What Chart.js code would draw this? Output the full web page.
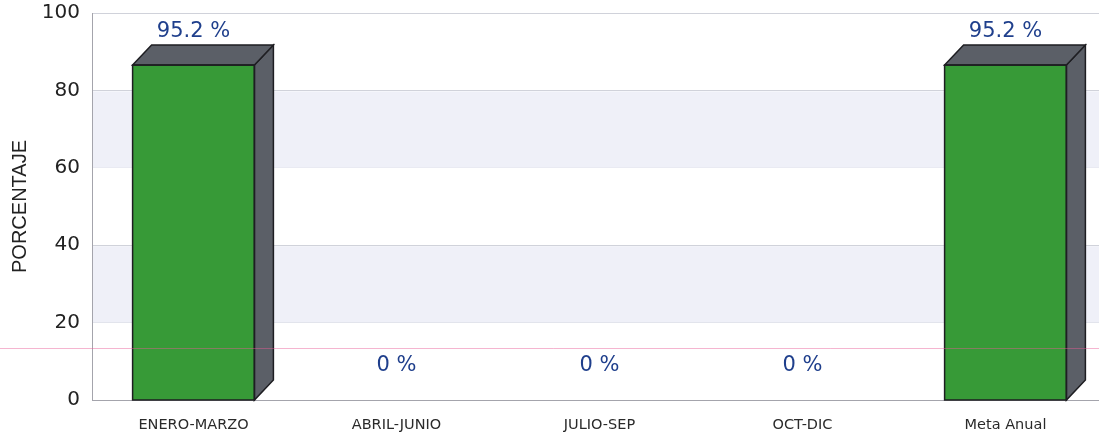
<!DOCTYPE html>
<html>
<head>
<meta charset="utf-8">
<script src="https://cdn.jsdelivr.net/npm/chart.js@4/dist/chart.umd.min.js"></script>
<style>
  html, body { margin: 0; padding: 0; background: #ffffff; overflow: hidden; }
  #wrap { width: 1107px; height: 437px; }
</style>
</head>
<body>
<div id="wrap"><canvas id="c" width="1107" height="437"></canvas></div>
<script>
const categories = ['ENERO-MARZO', 'ABRIL-JUNIO', 'JULIO-SEP', 'OCT-DIC', 'Meta Anual'];
const porcentajes = [95.2, 0, 0, 0, 95.2];
const valueLabels = ['95.2 %', '0 %', '0 %', '0 %', '95.2 %'];
const yTickValues = [0, 20, 40, 60, 80, 100];
const shadedBands = [[20, 40], [60, 80]];
const pinkLineValue = [13.4];

const bandsPlugin = {
  id: 'bands',
  beforeDatasetsDraw(chart) {
    const { ctx, chartArea } = chart;
    const y = chart.scales.y;
    ctx.save();
    ctx.fillStyle = '#eff0f8';
    shadedBands.forEach(([a, b]) => {
      const y1 = y.getPixelForValue(b), y2 = y.getPixelForValue(a);
      ctx.fillRect(chartArea.left + 1, y1 + 1, chartArea.right - chartArea.left, y2 - y1 - 1);
    });
    ctx.restore();
  }
};

const box3dPlugin = {
  id: 'box3d',
  afterDatasetsDraw(chart) {
    const { ctx } = chart;
    const meta = chart.getDatasetMeta(0);
    const dx = 19, dy = 20;
    ctx.save();
    meta.data.forEach((bar, i) => {
      if (!porcentajes[i]) return;
      const p = bar.getProps(['x', 'y', 'base', 'width'], true);
      const l = p.x - p.width / 2, r = p.x + p.width / 2, t = p.y, b = p.base;
      ctx.fillStyle = '#5b5f67';
      ctx.strokeStyle = '#1e1e22';
      ctx.lineWidth = 1.5;
      ctx.beginPath();
      ctx.moveTo(r, t); ctx.lineTo(r + dx, t - dy); ctx.lineTo(r + dx, b - dy); ctx.lineTo(r, b); ctx.closePath();
      ctx.fill(); ctx.stroke();
      ctx.beginPath();
      ctx.moveTo(l, t); ctx.lineTo(l + dx, t - dy); ctx.lineTo(r + dx, t - dy); ctx.lineTo(r, t); ctx.closePath();
      ctx.fill(); ctx.stroke();
      ctx.strokeRect(l, t, p.width, b - t);
    });
    ctx.restore();
  }
};

const labelsPlugin = {
  id: 'vlabels',
  afterDraw(chart) {
    const { ctx } = chart;
    const meta = chart.getDatasetMeta(0);
    ctx.save();
    ctx.font = '21px "DejaVu Sans", sans-serif';
    ctx.fillStyle = '#1f3f8c';
    ctx.textAlign = 'center';
    ctx.textBaseline = 'middle';
    meta.data.forEach((bar, i) => {
      ctx.fillText(valueLabels[i], bar.x, bar.y - 34);
    });
    const y = chart.scales.y;
    ctx.strokeStyle = 'rgba(232, 90, 150, 0.45)';
    ctx.lineWidth = 1;
    pinkLineValue.forEach(v => {
      const py = Math.round(y.getPixelForValue(v)) + 0.5;
      ctx.beginPath(); ctx.moveTo(0, py); ctx.lineTo(chart.width, py); ctx.stroke();
    });
    ctx.restore();
  }
};

new Chart(document.getElementById('c'), {
  type: 'bar',
  data: {
    labels: categories,
    datasets: [{
      data: porcentajes,
      yAxisID: 'yb',
      backgroundColor: '#379a37',
      borderWidth: 0,
      barPercentage: 0.6,
      categoryPercentage: 1.0
    }]
  },
  options: {
    responsive: false,
    animation: false,
    layout: { padding: { top: 13, right: 0, bottom: 0, left: 0 } },
    plugins: { legend: { display: false }, tooltip: { enabled: false } },
    scales: {
      x: {
        grid: { display: false, drawTicks: false },
        border: { display: true, color: '#a4a4ac', width: 1 },
        ticks: { font: { family: '"DejaVu Sans", sans-serif', size: 14.5 }, color: '#2a2a2a', padding: 17, maxRotation: 0, autoSkip: false },
        afterFit(s) { s.height = 37; s.paddingLeft = 0; s.paddingRight = 0; }
      },
      y: {
        min: 0, max: 100,
        afterBuildTicks(s) { s.ticks = yTickValues.map(v => ({ value: v })); },
        grid: { color: '#d0d2da', drawTicks: false },
        border: { display: true, color: '#a4a4ac', width: 1 },
        ticks: { font: { family: '"DejaVu Sans", sans-serif', size: 20 }, color: '#222', padding: 12 },
        title: { display: true, text: 'PORCENTAJE', font: { family: '"Liberation Sans", Arial, sans-serif', size: 20 }, color: '#222', padding: { top: 8, bottom: 0 } },
        afterFit(s) { s.width = 92; s.paddingTop = 0; s.paddingBottom = 0; }
      },
      yb: { display: false, min: 0, max: 110 }
    }
  },
  plugins: [bandsPlugin, box3dPlugin, labelsPlugin]
});
</script>
</body>
</html>
